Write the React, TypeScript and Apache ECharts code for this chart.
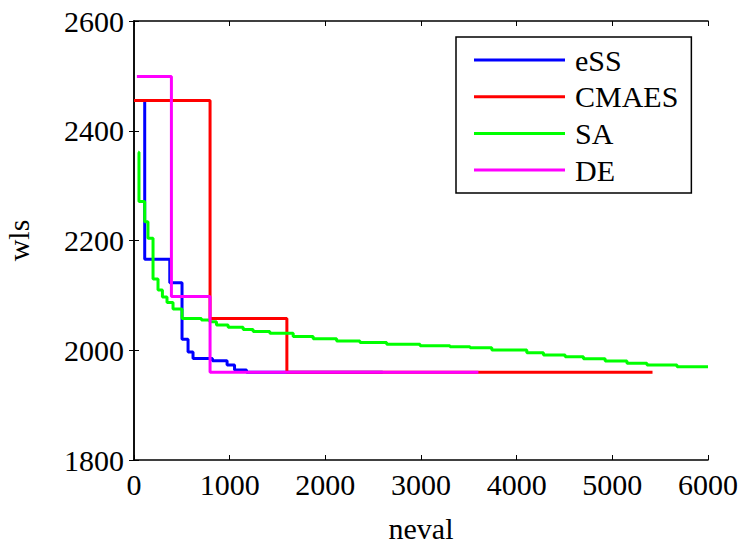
import React, { useEffect, useRef } from "react";
import * as echarts from "echarts";

const seriesNames = ["eSS", "CMAES", "SA", "DE"];
const seriesColors = ["#0000ff", "#ff0000", "#00ff00", "#ff00ff"];

const essData = [[0, 2455], [112, 2166], [374, 2123], [502, 2020], [565, 1997], [617, 1985], [820, 1981], [973, 1973], [1051, 1964], [1176, 1960], [2600, 1960]];
const cmaesData = [[0, 2455], [795, 2058], [1598, 1960], [5420, 1960]];
const saData = [[44, 2361], [52, 2271], [112, 2234], [146, 2204], [199, 2130], [251, 2110], [297, 2097], [345, 2087], [408, 2075], [502, 2058], [705, 2055], [792, 2052], [862, 2046], [984, 2042], [1141, 2038], [1245, 2034], [1420, 2031], [1664, 2025], [1873, 2021], [2118, 2017], [2362, 2014], [2641, 2011], [2990, 2008], [3303, 2006.5], [3513, 2004.7], [3740, 2000.5], [4106, 1995.6], [4280, 1991.3], [4507, 1988.3], [4698, 1984.6], [4925, 1980.4], [5153, 1976.2], [5362, 1973], [5676, 1970], [6000, 1970]];
const deData = [[30, 2499], [391, 2098], [795, 1960], [3600, 1960]];

const xName = "neval";
const yName = "wls";

const FONT = "'Liberation Serif', 'Times New Roman', serif";

export default function App() {
  const ref = useRef<HTMLDivElement>(null);
  useEffect(() => {
    if (!ref.current) return;
    const chart = echarts.init(ref.current, null, { renderer: "svg" });
    const allData = [essData, cmaesData, saData, deData];
    const axisCommon = {
      axisLine: { show: true, lineStyle: { color: "#000", width: 1.5 } },
      axisTick: { show: true, inside: true, length: 5, lineStyle: { color: "#000", width: 1 } },
      splitLine: { show: false },
    };
    const plain = (v: number) => String(v);
    chart.setOption({
      animation: false,
      backgroundColor: "#fff",
      grid: { left: 134, top: 21, right: 32, bottom: 86, containLabel: false, outerBoundsMode: "none" },
      legend: {
        orient: "vertical",
        left: 456,
        top: 37,
        width: 237,
        backgroundColor: "#fff",
        borderColor: "#000",
        borderWidth: 1.5,
        borderRadius: 0,
        padding: [8, 13, 8, 18],
        itemWidth: 91,
        itemHeight: 3,
        itemGap: 6.7,
        icon: "rect",
        textStyle: { fontFamily: FONT, fontSize: 30, color: "#000", padding: [0, 0, 0, 5] },
        data: seriesNames,
      },
      xAxis: [
        {
          type: "value",
          min: 0,
          max: 6000,
          interval: 1000,
          name: xName,
          nameLocation: "middle",
          nameGap: 53,
          nameTextStyle: { fontFamily: FONT, fontSize: 30, color: "#000" },
          axisLabel: { fontFamily: FONT, fontSize: 30, color: "#000", margin: 9, formatter: plain },
          ...axisCommon,
        },
        {
          type: "value",
          position: "top",
          min: 0,
          max: 6000,
          interval: 1000,
          axisLabel: { show: false },
          ...axisCommon,
        },
      ],
      yAxis: [
        {
          type: "value",
          min: 1800,
          max: 2600,
          interval: 200,
          name: yName,
          nameLocation: "middle",
          nameGap: 101,
          nameTextStyle: { fontFamily: FONT, fontSize: 30, color: "#000" },
          axisLabel: { fontFamily: FONT, fontSize: 30, color: "#000", margin: 10, formatter: plain },
          ...axisCommon,
        },
        {
          type: "value",
          position: "right",
          min: 1800,
          max: 2600,
          interval: 200,
          axisLabel: { show: false },
          ...axisCommon,
        },
      ],
      series: seriesNames.map((name, i) => ({
        name,
        type: "line",
        step: "end",
        data: allData[i],
        showSymbol: false,
        symbol: "none",
        color: seriesColors[i],
        lineStyle: { color: seriesColors[i], width: 3 },
        z: 2 + i,
      })),
    });
    return () => chart.dispose();
  }, []);
  return <div ref={ref} style={{ width: 740, height: 546, position: "absolute", left: 0, top: 0 }} />;
}
